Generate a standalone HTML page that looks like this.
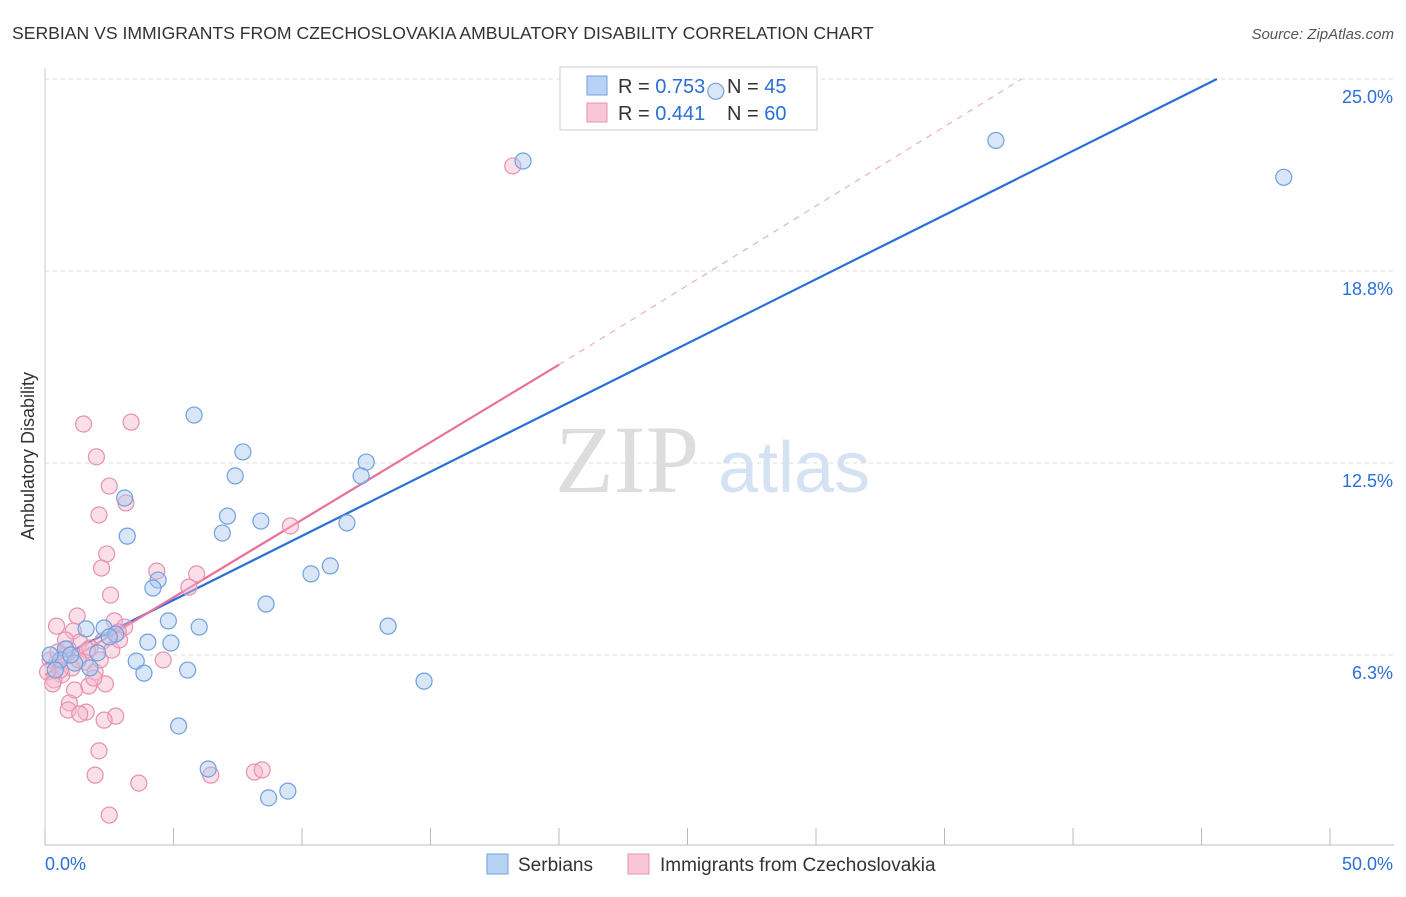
<!DOCTYPE html>
<html><head><meta charset="utf-8">
<style>
body{margin:0;background:#fff;font-family:"Liberation Sans",sans-serif;}
svg text{font-family:"Liberation Sans",sans-serif;}
</style></head>
<body>
<svg id="chart" width="1406" height="892" xmlns="http://www.w3.org/2000/svg">
<text x="12" y="39" font-size="17.6" fill="#333">SERBIAN VS IMMIGRANTS FROM CZECHOSLOVAKIA AMBULATORY DISABILITY CORRELATION CHART</text>
<text x="1394" y="39" font-size="15" fill="#555" text-anchor="end" font-style="italic">Source: ZipAtlas.com</text>
<text transform="translate(34,456) rotate(-90)" font-size="18" fill="#333" text-anchor="middle">Ambulatory Disability</text>
<g>
<text x="555" y="492" font-size="96" fill="#ddd" style="font-family:'Liberation Serif',serif">ZIP</text>
<text x="718" y="492" font-size="72" fill="#d5e2f3">atlas</text>
</g>
<g id="grid"></g><g id="axes"></g>
<g>
<rect x="560" y="67" width="257" height="63" fill="#fff" stroke="#ccc"/>
<rect x="587" y="76" width="20" height="19" fill="#b8d2f4" stroke="#6fa0e0"/>
<text x="618" y="93" font-size="20" fill="#333">R = <tspan fill="#2a6fd6">0.753</tspan><tspan x="727">N = </tspan><tspan fill="#2a6fd6">45</tspan></text>
<rect x="587" y="103" width="20" height="19" fill="#f8c6d6" stroke="#e890ae"/>
<text x="618" y="120" font-size="20" fill="#333">R = <tspan fill="#2a6fd6">0.441</tspan><tspan x="727">N = </tspan><tspan fill="#2a6fd6">60</tspan></text>
</g>
<g id="lines"></g><g id="pts"></g>
<g>
<rect x="487" y="854" width="21" height="20" fill="#b8d2f4" stroke="#6fa0e0"/>
<text x="518" y="871" font-size="19" fill="#333">Serbians</text>
<rect x="628" y="854" width="21" height="20" fill="#f8c6d6" stroke="#e890ae"/>
<text x="660" y="871" font-size="19" fill="#333">Immigrants from Czechoslovakia</text>
</g>
</svg>
<script>
const yTicks=[6.25,12.5,18.75,25];
const yTickLabels=["6.3%","12.5%","18.8%","25.0%"];
const xTicks=[0,5,10,15,20,25,30,35,40,45,50];
const blueX=[18.6,26.1,37.0,48.2,5.8,7.7,12.5,7.4,12.3,3.1,7.1,8.4,11.75,6.9,3.2,11.1,10.35,4.4,4.2,8.6,4.8,13.35,6.0,1.6,2.3,2.75,2.5,4.0,4.9,2.05,0.8,3.55,5.55,3.85,14.75,5.2,6.35,9.45,8.7,0.6,0.2,1.15,1.75,0.4,1.0];
const blueY=[22.33,24.6,23.0,21.8,14.06,12.86,12.53,12.08,12.08,11.36,10.77,10.61,10.55,10.22,10.12,9.15,8.89,8.69,8.43,7.91,7.36,7.19,7.16,7.10,7.13,6.93,6.84,6.67,6.64,6.32,6.45,6.05,5.76,5.66,5.40,3.94,2.54,1.82,1.60,6.09,6.25,5.99,5.83,5.76,6.25];
const pinkX=[18.2,1.5,3.35,2.0,2.5,3.15,2.1,9.55,2.4,2.2,4.35,5.9,5.6,2.55,1.25,0.45,2.7,3.1,2.85,1.1,2.25,1.35,0.9,1.75,0.75,0.45,0.2,1.55,1.95,0.65,0.35,1.05,2.35,1.7,1.15,4.6,0.95,0.9,1.6,1.35,2.75,2.3,2.1,1.95,6.45,8.15,8.45,3.65,2.5,0.6,0.1,0.3,2.15,1.65,0.8,0.5,2.6,1.3,1.9,2.9];
const pinkY=[22.17,13.77,13.83,12.70,11.75,11.20,10.81,10.45,9.54,9.08,8.98,8.89,8.46,8.20,7.52,7.19,7.36,7.16,7.00,7.03,6.71,6.67,6.45,6.48,6.22,5.99,6.09,6.02,5.70,5.60,5.44,5.83,5.31,5.24,5.11,6.09,4.69,4.46,4.39,4.33,4.26,4.13,3.13,2.34,2.34,2.44,2.51,2.08,1.04,5.76,5.70,5.31,6.09,6.41,6.74,6.35,6.41,6.09,5.50,6.74];
const blueLine=[[0,5.95],[45.6,25]];
const pinkLine=[[0,5.6],[20,15.7]];
const pinkDash=[[20,15.7],[38,25]];
const NS="http://www.w3.org/2000/svg";
const sx=v=>45+v*25.7, sy=v=>847-v*30.72;
function mk(t,a,p){const e=document.createElementNS(NS,t);for(const k in a)e.setAttribute(k,a[k]);document.getElementById(p).appendChild(e);return e;}
yTicks.forEach((t,i)=>{
 const g=mk('line',{x1:45,x2:1394,y1:sy(t),y2:sy(t),stroke:'#ddd','stroke-dasharray':'4,4'},'grid');
 
 
 const l=mk('text',{x:1393,y:sy(t)+24,'font-size':18,fill:'#2a6fd6','text-anchor':'end'},'axes');
 l.textContent=yTickLabels[i];
 
 
});
const ax=mk('line',{x1:45,x2:1394,y1:845,y2:845,stroke:'#bbb'},'axes');


const ay=mk('line',{x1:45,x2:45,y1:68,y2:845,stroke:'#ccc'},'axes');


xTicks.forEach(t=>{
 const k=mk('line',{x1:sx(t),x2:sx(t),y1:828,y2:845,stroke:'#bbb'},'axes');
 
 
});
const x0=mk('text',{x:45,y:870,'font-size':18,fill:'#2a6fd6'},'axes');x0.textContent='0.0%';


const x1=mk('text',{x:1393,y:870,'font-size':18,fill:'#2a6fd6','text-anchor':'end'},'axes');x1.textContent='50.0%';


function ln(p,st,name){const e=mk('line',Object.assign({x1:sx(p[0][0]),y1:sy(p[0][1]),x2:sx(p[1][0]),y2:sy(p[1][1])},st),'lines');
 
 }
ln(pinkDash,{stroke:'#e8a0b8','stroke-dasharray':'6,6','stroke-width':1},'pink-trend-extension');
function dots(X,Y,fill,stroke,name){X.forEach((x,i)=>{const c=mk('circle',{cx:sx(x),cy:sy(Y[i]),r:8,fill:fill,'fill-opacity':0.45,stroke:stroke,'stroke-width':1.2},'pts');
 
 });}
dots(pinkX,pinkY,'#f5b8cc','#e890ae','czechoslovakia-point');
dots(blueX,blueY,'#a9c8f0','#6fa0e0','serbian-point');
ln(blueLine,{stroke:'#2a6fd6','stroke-width':2.2},'serbian-trend-line');
ln(pinkLine,{stroke:'#e8709a','stroke-width':2.2},'czechoslovakia-trend-line');
</script>
</body></html>
